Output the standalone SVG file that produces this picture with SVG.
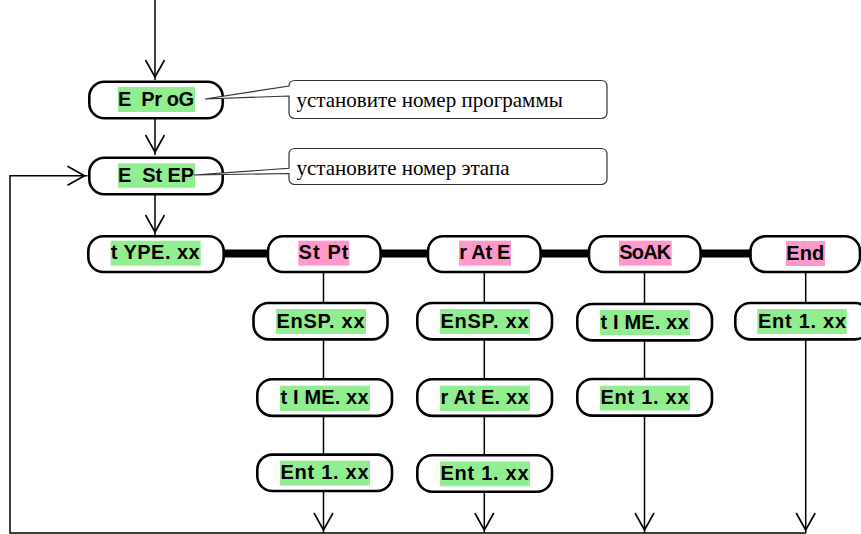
<svg xmlns="http://www.w3.org/2000/svg" width="861" height="534" viewBox="0 0 861 534">
<style>
.node rect.box{fill:#fff;stroke:#000;stroke-width:2.6}
.hg{fill:#90ee90}
.hp{fill:#ff99cc}
.lbl{font-family:"Liberation Sans",Arial,sans-serif;font-weight:bold;font-size:20px;fill:#000;white-space:pre}
.conn{stroke:#000;stroke-width:1.5;fill:none}
.thick{stroke:#000;stroke-width:8;fill:none}
.callout path{fill:#fff;stroke:#333;stroke-width:1.2}
.note{font-family:"Liberation Serif","Times New Roman",serif;font-size:21px;fill:#000}
</style>
<defs>
<marker id="arr" markerUnits="userSpaceOnUse" markerWidth="24" markerHeight="24" viewBox="-22 -12 24 24" refX="0" refY="0" orient="auto" overflow="visible">
<path d="M-20,-9.5 L-3,0 L-20,9.5" fill="none" stroke="#000" stroke-width="1.6"/>
</marker>
</defs>
<rect width="861" height="534" fill="#fff"/>
<g id="connectors">
<line class="conn" x1="155" y1="0" x2="155" y2="80" marker-end="url(#arr)"/>
<line class="conn" x1="155" y1="119" x2="155" y2="155" marker-end="url(#arr)"/>
<line class="conn" x1="155" y1="195" x2="155" y2="235" marker-end="url(#arr)"/>
<polyline class="conn" points="806,533 10,533 10,175.7 87.5,175.7" marker-end="url(#arr)"/>
<line class="thick" x1="224" y1="253.5" x2="750" y2="253.5"/>
<line class="conn" x1="323.5" y1="272" x2="323.5" y2="533" marker-end="url(#arr)"/>
<line class="conn" x1="484.3" y1="272" x2="484.3" y2="533" marker-end="url(#arr)"/>
<line class="conn" x1="644.5" y1="272" x2="644.5" y2="533" marker-end="url(#arr)"/>
<line class="conn" x1="805.7" y1="272" x2="805.7" y2="533" marker-end="url(#arr)"/>
</g>
<g id="n-eprog" class="node">
<rect class="box" x="89.3" y="81.8" width="133.4" height="36.4" rx="15"/>
<rect class="hg" x="118" y="87" width="77" height="25"/>
<text class="lbl" xml:space="preserve" x="118" y="105.5" textLength="76" lengthAdjust="spacing">E  Pr oG</text>
</g>
<g id="n-estep" class="node">
<rect class="box" x="89.3" y="157.8" width="133.4" height="36.4" rx="15"/>
<rect class="hg" x="118" y="163.3" width="77" height="24.5"/>
<text class="lbl" xml:space="preserve" x="118" y="181.8" textLength="76" lengthAdjust="spacing">E  St EP</text>
</g>
<g id="n-type" class="node">
<rect class="box" x="88.3" y="236.3" width="135.4" height="35.7" rx="15"/>
<rect class="hg" x="110.7" y="240.7" width="90" height="25"/>
<text class="lbl" xml:space="preserve" x="110.7" y="259.3" textLength="89" lengthAdjust="spacing">t YPE. xx</text>
</g>
<g id="n-stpt" class="node">
<rect class="box" x="268" y="236.3" width="112.6" height="35.7" rx="15"/>
<rect class="hp" x="298.3" y="240.7" width="51" height="25"/>
<text class="lbl" xml:space="preserve" x="298.5" y="259.3" textLength="50" lengthAdjust="spacing">St Pt</text>
</g>
<g id="n-rate" class="node">
<rect class="box" x="428" y="236.3" width="112.6" height="35.7" rx="15"/>
<rect class="hp" x="459" y="240.7" width="52" height="25"/>
<text class="lbl" xml:space="preserve" x="459.3" y="259.3" textLength="51" lengthAdjust="spacing">r At E</text>
</g>
<g id="n-soak" class="node">
<rect class="box" x="589" y="236.3" width="111.6" height="35.7" rx="15"/>
<rect class="hp" x="619" y="240.7" width="52.7" height="25"/>
<text class="lbl" xml:space="preserve" x="619.3" y="259.3" textLength="52" lengthAdjust="spacing">SoAK</text>
</g>
<g id="n-end" class="node">
<rect class="box" x="750.5" y="236.3" width="109.5" height="35.7" rx="15"/>
<rect class="hp" x="786" y="241" width="39" height="25"/>
<text class="lbl" xml:space="preserve" x="786.3" y="259.5" textLength="38" lengthAdjust="spacing">End</text>
</g>
<g id="n-stpt-ensp" class="node">
<rect class="box" x="253.5" y="303" width="134" height="36.4" rx="15"/>
<rect class="hg" x="276" y="309" width="90" height="25"/>
<text class="lbl" xml:space="preserve" x="276.5" y="327.5" textLength="88" lengthAdjust="spacing">EnSP. xx</text>
</g>
<g id="n-rate-ensp" class="node">
<rect class="box" x="417.3" y="303" width="134.7" height="36.4" rx="15"/>
<rect class="hg" x="440" y="309" width="90" height="25"/>
<text class="lbl" xml:space="preserve" x="440.5" y="327.5" textLength="88" lengthAdjust="spacing">EnSP. xx</text>
</g>
<g id="n-soak-time" class="node">
<rect class="box" x="577.3" y="304" width="134.7" height="36.4" rx="15"/>
<rect class="hg" x="600" y="310" width="90" height="25"/>
<text class="lbl" xml:space="preserve" x="600.5" y="328.5" textLength="88" lengthAdjust="spacing">t I ME. xx</text>
</g>
<g id="n-end-ent" class="node">
<rect class="box" x="735.3" y="303" width="134.7" height="36.4" rx="15"/>
<rect class="hg" x="757.3" y="309" width="89.4" height="25"/>
<text class="lbl" xml:space="preserve" x="758" y="327.5" textLength="88" lengthAdjust="spacing">Ent 1. xx</text>
</g>
<g id="n-stpt-time" class="node">
<rect class="box" x="257.3" y="379.3" width="134.7" height="36.6" rx="15"/>
<rect class="hg" x="280" y="385.7" width="90" height="25.3"/>
<text class="lbl" xml:space="preserve" x="280.5" y="404.2" textLength="88" lengthAdjust="spacing">t I ME. xx</text>
</g>
<g id="n-rate-rate" class="node">
<rect class="box" x="417.3" y="379.3" width="134.7" height="36.6" rx="15"/>
<rect class="hg" x="440" y="385.7" width="90" height="25.3"/>
<text class="lbl" xml:space="preserve" x="440.5" y="404.2" textLength="88" lengthAdjust="spacing">r At E. xx</text>
</g>
<g id="n-soak-ent" class="node">
<rect class="box" x="577.3" y="379" width="134.7" height="36.6" rx="15"/>
<rect class="hg" x="600" y="385.7" width="90" height="24.8"/>
<text class="lbl" xml:space="preserve" x="600.5" y="404" textLength="88" lengthAdjust="spacing">Ent 1. xx</text>
</g>
<g id="n-stpt-ent" class="node">
<rect class="box" x="257.3" y="454.6" width="134.7" height="36.4" rx="15"/>
<rect class="hg" x="280" y="460.7" width="90" height="24.8"/>
<text class="lbl" xml:space="preserve" x="280.5" y="479" textLength="88" lengthAdjust="spacing">Ent 1. xx</text>
</g>
<g id="n-rate-ent" class="node">
<rect class="box" x="417.3" y="455.3" width="134.7" height="36.4" rx="15"/>
<rect class="hg" x="440" y="461.5" width="90" height="24.8"/>
<text class="lbl" xml:space="preserve" x="440.5" y="480" textLength="88" lengthAdjust="spacing">Ent 1. xx</text>
</g>
<g id="callout-prog" class="callout">
<path d="M295,80.5 H601 Q607,80.5 607,86.5 V112.5 Q607,118.5 601,118.5 H295 Q289,118.5 289,112.5 V96 L205,99 L289,86 Q289,80.5 295,80.5 Z"/>
<text class="note" x="296.5" y="106.7">установите номер программы</text>
</g>
<g id="callout-step" class="callout">
<path d="M295,148.5 H601 Q607,148.5 607,154.5 V178.5 Q607,184.5 601,184.5 H295 Q289,184.5 289,178.5 V173.5 L194,175 L289,168.3 V154.5 Q289,148.5 295,148.5 Z"/>
<text class="note" x="296.5" y="175">установите номер этапа</text>
</g>
</svg>
